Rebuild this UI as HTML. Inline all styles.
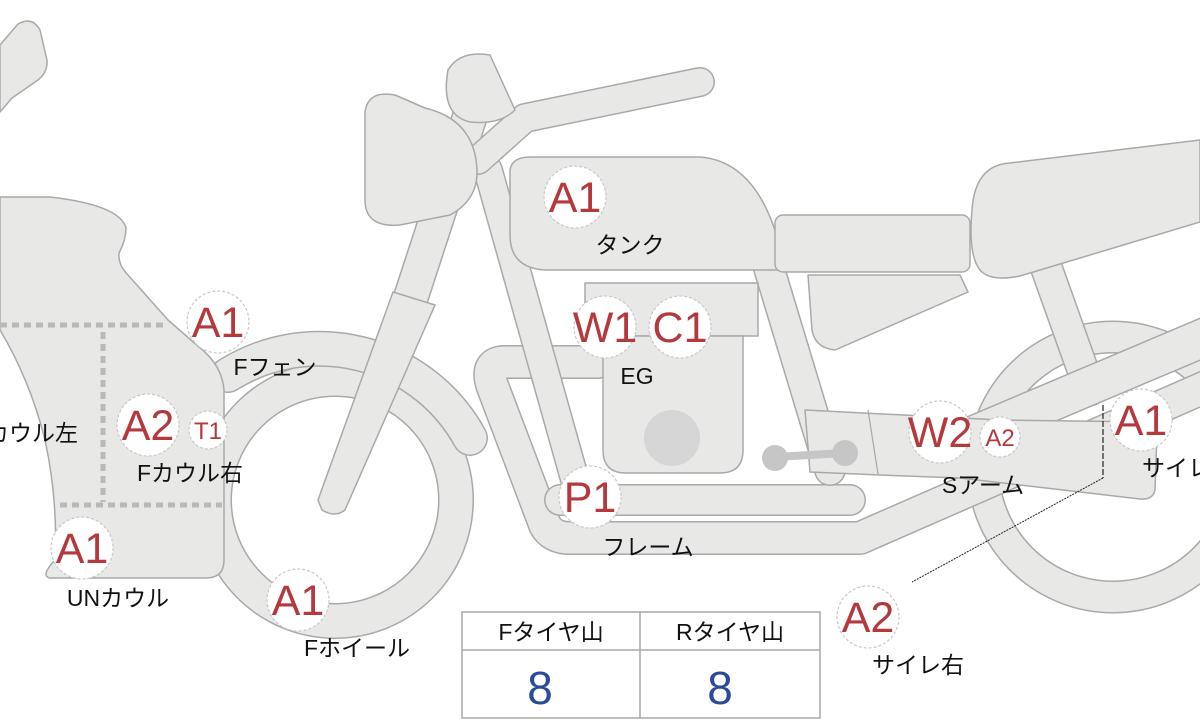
<!DOCTYPE html>
<html><head><meta charset="utf-8"><style>
html,body{margin:0;padding:0;background:#fff;}
svg{display:block;}
.s{fill:#e8e8e6;stroke:#a9a9a9;stroke-width:1.5;stroke-linejoin:round;}
.o{fill:none;stroke:#a9a9a9;stroke-linecap:round;stroke-linejoin:round;}
.f{fill:none;stroke:#e8e8e6;stroke-linecap:round;stroke-linejoin:round;}
.c{fill:#fff;stroke:#c8c8c8;stroke-width:1.2;stroke-dasharray:3 2;}
.r{fill:#b5383c;font-family:"Liberation Sans",sans-serif;text-anchor:middle;}
.l{fill:#111;font-family:"Liberation Sans","Noto Sans CJK JP",sans-serif;font-size:23px;text-anchor:middle;}
</style></head><body>
<svg width="1200" height="720" viewBox="0 0 1200 720" xmlns="http://www.w3.org/2000/svg">
<circle cx="1113" cy="467" r="130" fill="none" stroke="#a9a9a9" stroke-width="33"/>
<circle cx="1113" cy="467" r="130" fill="none" stroke="#e8e8e6" stroke-width="30"/>
<circle cx="335" cy="500" r="121" fill="none" stroke="#a9a9a9" stroke-width="36"/>
<circle cx="335" cy="500" r="121" fill="none" stroke="#e8e8e6" stroke-width="33"/>
<path d="M228,375 A172,172 0 0 1 470,438" class="o" stroke-width="36" stroke-linecap="butt"/>
<path d="M228,375 A172,172 0 0 1 470,438" class="f" stroke-width="33" stroke-linecap="butt"/>
<line x1="1040" y1="250" x2="1090" y2="390" class="o" stroke-width="33" stroke-linecap="butt"/>
<line x1="1040" y1="250" x2="1090" y2="390" class="f" stroke-width="30" stroke-linecap="butt"/>
<line x1="950" y1="445" x2="1210" y2="335" class="o" stroke-width="40"/>
<line x1="950" y1="445" x2="1210" y2="335" class="f" stroke-width="37"/>
<path d="M598,362 L505,362 Q485,362 492,385 L545,525 Q552,538 570,538 L860,538 L1210,385" class="o" stroke-width="34"/>
<path d="M598,362 L505,362 Q485,362 492,385 L545,525 Q552,538 570,538 L860,538 L1210,385" class="f" stroke-width="31"/>
<line x1="488" y1="170" x2="575" y2="480" class="o" stroke-width="30"/>
<line x1="488" y1="170" x2="575" y2="480" class="f" stroke-width="27"/>
<path d="M560,500 L850,500" class="o" stroke-width="32"/>
<path d="M560,500 L850,500" class="f" stroke-width="29"/>
<line x1="765" y1="255" x2="830" y2="470" class="o" stroke-width="32" stroke-linecap="butt"/>
<line x1="765" y1="255" x2="830" y2="470" class="f" stroke-width="29" stroke-linecap="butt"/>
<path class="s" d="M805,410 L1000,420 L1150,422 Q1158,424 1157,432 L1155,490 Q1153,500 1140,499 L960,478 L880,475 L810,472 Z"/>
<line x1="868" y1="410" x2="878" y2="474" stroke="#a9a9a9" stroke-width="1.2"/>
<line x1="775" y1="457" x2="845" y2="453" stroke="#c6c6c6" stroke-width="8"/>
<circle cx="775" cy="458" r="13" fill="#c6c6c6"/><circle cx="845" cy="453" r="13" fill="#c6c6c6"/>
<rect class="s" x="585" y="283" width="173" height="53"/>
<path class="s" d="M603,336 L743,336 L743,450 Q743,473 720,473 L626,473 Q603,473 603,450 Z"/>
<circle cx="672" cy="438" r="28" fill="#d6d6d6"/>
<line x1="472" y1="110" x2="410" y2="300" class="o" stroke-width="36" stroke-linecap="butt"/>
<line x1="472" y1="110" x2="410" y2="300" class="f" stroke-width="33" stroke-linecap="butt"/>
<path class="s" d="M393,292 L435,305 L345,510 Q335,518 322,510 L318,500 Z"/>
<path d="M478,160 L525,118 L700,82" class="o" stroke-width="30"/>
<path d="M478,160 L525,118 L700,82" class="f" stroke-width="27"/>
<path class="s" d="M448,70 Q460,50 490,55 L515,110 Q500,125 470,122 Q440,115 448,70 Z"/>
<path class="s" d="M365,112 Q368,90 395,95 L425,108 Q475,120 477,170 Q478,200 450,215 L400,225 Q365,228 365,200 Z"/>
<path class="s" d="M510,170 Q512,157 530,157 L700,157 Q765,162 785,270 L545,270 Q510,268 510,235 Z"/>
<rect class="s" x="775" y="215" width="195" height="57" rx="8"/>
<path class="s" d="M808,275 L960,275 L968,292 L835,350 Q815,348 812,330 Z"/>
<path class="s" d="M972,210 Q975,165 1010,163 L1200,140 L1200,222 L1020,276 Q990,282 980,270 Q968,255 972,210 Z"/>
<path class="s" d="M0,197 L50,197 Q120,205 126,228 Q126,240 119,253 Q118,265 128,275 L168,320 L199,347 Q222,365 224,390 L224,560 Q224,578 206,578 L50,578 Q40,576 55,560 Q58,500 45,440 Q30,380 0,330 Z"/>
<path class="s" d="M0,45 L18,24 Q32,16 40,30 L47,60 Q48,72 38,80 L12,98 L0,112 Z"/>
<g stroke="#b9b9b9" stroke-width="5" stroke-dasharray="7 5">
<line x1="0" y1="325" x2="168" y2="325"/>
<line x1="103" y1="332" x2="103" y2="502"/>
<line x1="60" y1="505" x2="222" y2="505"/>
</g>
<line x1="1103" y1="405" x2="1103" y2="478" stroke="#222" stroke-width="1.2" stroke-dasharray="6 2"/>
<line x1="1103" y1="478" x2="912" y2="582" stroke="#222" stroke-width="1" stroke-dasharray="2 1"/>
<g>
<circle class="c" cx="575" cy="197" r="31"/><text class="r" x="575" y="212" font-size="43">A1</text>
<circle class="c" cx="218" cy="322" r="31"/><text class="r" x="218" y="337" font-size="43">A1</text>
<circle class="c" cx="605" cy="327" r="31"/><text class="r" x="605" y="342" font-size="43">W1</text>
<circle class="c" cx="680" cy="327" r="31"/><text class="r" x="680" y="342" font-size="43">C1</text>
<circle class="c" cx="148" cy="425" r="31"/><text class="r" x="148" y="440" font-size="43">A2</text>
<circle class="c" cx="208" cy="430" r="19"/><text class="r" x="208" y="439" font-size="24">T1</text>
<circle class="c" cx="82" cy="548" r="31"/><text class="r" x="82" y="563" font-size="43">A1</text>
<circle class="c" cx="298" cy="600" r="31"/><text class="r" x="298" y="615" font-size="43">A1</text>
<circle class="c" cx="590" cy="497" r="31"/><text class="r" x="590" y="512" font-size="43">P1</text>
<circle class="c" cx="940" cy="432" r="31"/><text class="r" x="940" y="447" font-size="43">W2</text>
<circle class="c" cx="1000" cy="437" r="20"/><text class="r" x="1000" y="446" font-size="24">A2</text>
<circle class="c" cx="1141" cy="420" r="31"/><text class="r" x="1141" y="435" font-size="43">A1</text>
<circle class="c" cx="868" cy="617" r="31"/><text class="r" x="868" y="632" font-size="43">A2</text>
</g>
<text class="l" x="630" y="253">タンク</text>
<text class="l" x="275" y="375">Fフェン</text>
<text class="l" x="637" y="384">EG</text>
<text class="l" x="190" y="481">Fカウル右</text>
<text class="l" x="32" y="441">カウル左</text>
<text class="l" x="118" y="606">UNカウル</text>
<text class="l" x="357" y="656">Fホイール</text>
<text class="l" x="648" y="555">フレーム</text>
<text class="l" x="983" y="493">Sアーム</text>
<text class="l" x="1188" y="476">サイレ左</text>
<text class="l" x="918" y="673">サイレ右</text>
<rect x="462" y="612" width="358" height="106" fill="#fff" stroke="#a9a9a9" stroke-width="1.5"/>
<line x1="462" y1="650" x2="820" y2="650" stroke="#a9a9a9" stroke-width="1.5"/>
<line x1="640" y1="612" x2="640" y2="718" stroke="#a9a9a9" stroke-width="1.5"/>
<text class="l" x="551" y="640">Fタイヤ山</text>
<text class="l" x="730" y="640">Rタイヤ山</text>
<text x="540" y="704" font-family="Liberation Sans,sans-serif" font-size="46" fill="#2a4a9a" text-anchor="middle">8</text>
<text x="720" y="704" font-family="Liberation Sans,sans-serif" font-size="46" fill="#2a4a9a" text-anchor="middle">8</text>
</svg>
</body></html>
